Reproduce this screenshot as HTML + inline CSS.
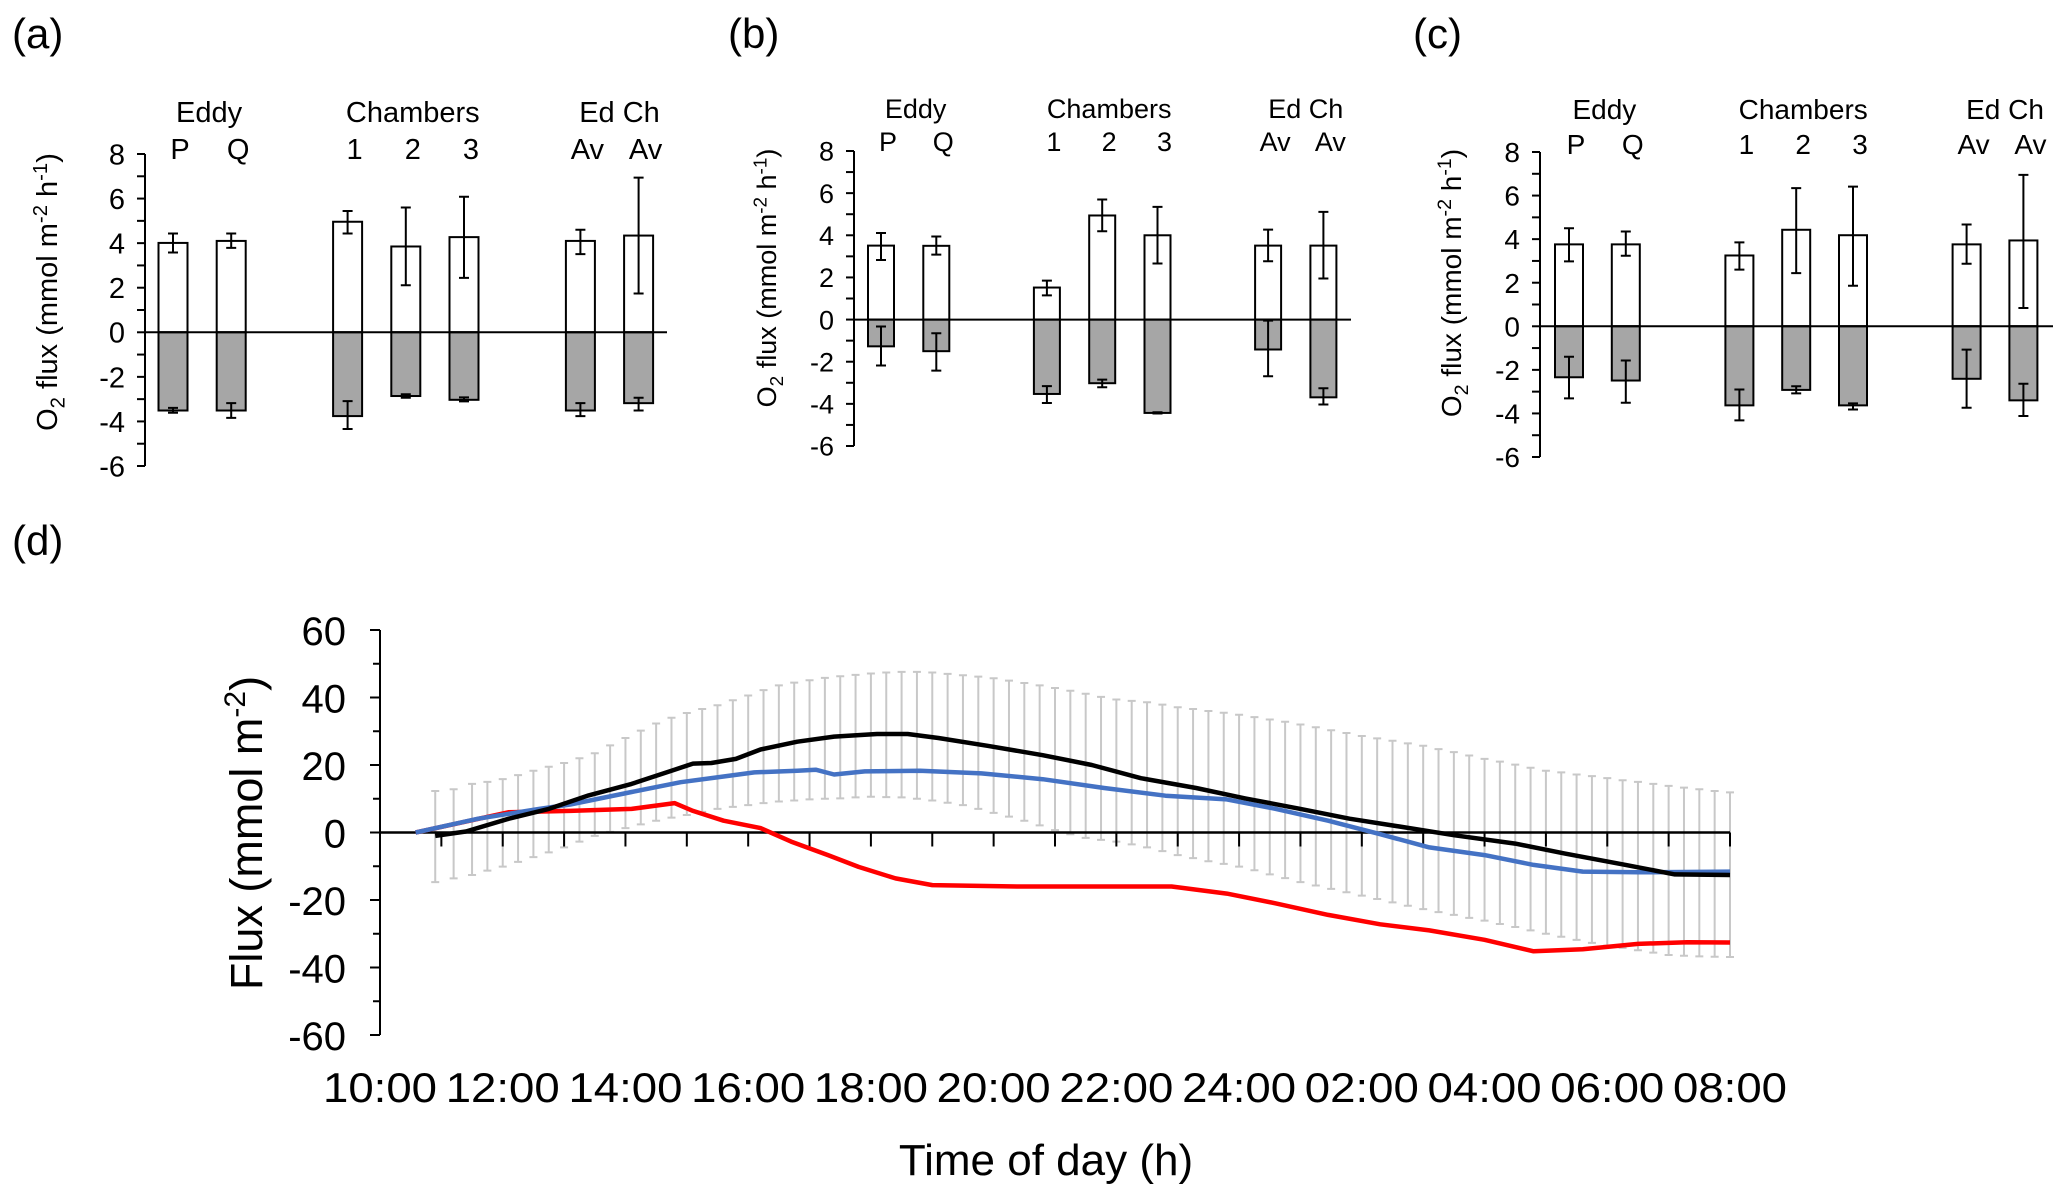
<!DOCTYPE html>
<html><head><meta charset="utf-8"><style>
html,body{margin:0;padding:0;background:#fff;}
svg{display:block;font-family:"Liberation Sans",Arial,sans-serif;}
</style></head><body>
<svg id="fig" width="2067" height="1199" viewBox="0 0 2067 1199" xmlns="http://www.w3.org/2000/svg"></svg>
<script>
// ---------- bar panel data ----------
const barCats = ["P","Q","1","2","3","Av","Av"];
const barSlots = [0,1,3,4,5,7,8];
const yTicksBar = [8,6,4,2,0,-2,-4,-6];

const aPos = [4.01,4.10,4.96,3.85,4.27,4.10,4.34];
const aPosHi = [4.43,4.43,5.44,5.60,6.08,4.60,6.94];
const aPosLo = [3.58,3.79,4.43,2.11,2.44,3.51,1.74];
const aNeg = [-3.51,-3.51,-3.76,-2.86,-3.03,-3.51,-3.18];
const aNegHi = [-3.39,-3.18,-3.09,-2.78,-2.92,-3.18,-2.94];
const aNegLo = [-3.61,-3.84,-4.34,-2.94,-3.10,-3.76,-3.51];

const bPos = [3.51,3.50,1.52,4.94,4.00,3.51,3.51];
const bPosHi = [4.11,3.94,1.85,5.70,5.35,4.27,5.11];
const bPosLo = [2.83,3.08,1.15,4.19,2.66,2.77,1.95];
const bNeg = [-1.27,-1.50,-3.53,-3.02,-4.43,-1.42,-3.69];
const bNegHi = [-0.33,-0.65,-3.16,-2.85,-4.40,-0.05,-3.26];
const bNegLo = [-2.18,-2.42,-3.96,-3.21,-4.46,-2.69,-4.03];

const cPos = [3.76,3.76,3.25,4.43,4.18,3.76,3.94];
const cPosHi = [4.50,4.35,3.85,6.34,6.41,4.67,6.95];
const cPosLo = [2.98,3.24,2.60,2.44,1.86,2.87,0.84];
const cNeg = [-2.34,-2.49,-3.63,-2.92,-3.63,-2.41,-3.40];
const cNegHi = [-1.40,-1.57,-2.90,-2.75,-3.54,-1.07,-2.64];
const cNegLo = [-3.31,-3.51,-4.32,-3.08,-3.82,-3.74,-4.12];

// ---------- line chart data (d) ----------
const xTickLabels = ["10:00","12:00","14:00","16:00","18:00","20:00","22:00","24:00","02:00","04:00","06:00","08:00"];
const yTicksD = [60,40,20,0,-20,-40,-60];
const redT = [10.58,12.09,13.1,14.1,14.68,14.8,15.1,15.6,16.2,16.7,17.3,17.8,18.4,19.0,20.4,22.9,23.8,24.6,25.45,26.3,27.1,28.0,28.8,29.6,30.5,31.3,32];
const redV = [0,6.0,6.4,7.0,8.4,8.7,6.4,3.5,1.3,-2.7,-6.7,-10.2,-13.6,-15.6,-16,-16,-18.1,-21,-24.4,-27.2,-29,-31.8,-35.2,-34.6,-33,-32.5,-32.6];
const blueT = [10.58,11.6,12.6,13.1,14.1,14.9,15.6,16.1,16.8,17.1,17.4,17.9,18.8,19.8,20.8,21.8,22.8,23.8,24.6,25.45,26.3,27.1,28.0,28.8,29.6,30.5,32];
const blueV = [0,4.1,7.0,8.3,12.0,14.9,16.6,17.8,18.3,18.6,17.2,18.1,18.3,17.5,15.8,13.2,10.9,9.8,7.0,3.5,-0.5,-4.4,-6.7,-9.6,-11.6,-11.8,-11.6];
const blackT = [10.9,11.4,12.1,12.75,13.4,14.1,14.75,15.1,15.4,15.8,16.2,16.8,17.4,18.1,18.6,19.1,19.9,20.8,21.6,22.4,23.3,24.1,25.0,25.8,26.6,27.5,28.5,29.3,30.3,31.1,32];
const blackV = [-1,0.3,4.1,7.0,11.0,14.4,18.3,20.4,20.6,21.8,24.6,26.9,28.4,29.2,29.2,28.0,25.7,22.9,20.0,16.1,13.2,10.1,7.0,4.1,1.8,-0.8,-3.3,-6.2,-9.6,-12.4,-12.6];
const errT = [10.9,11.2,11.5,11.75,12,12.25,12.5,12.75,13,13.25,13.5,13.75,14,14.25,14.5,14.75,15,15.25,15.5,15.75,16,16.25,16.5,16.75,17,17.25,17.5,17.75,18,18.25,18.5,18.75,19,19.25,19.5,19.75,20,20.25,20.5,20.75,21,21.25,21.5,21.75,22,22.25,22.5,22.75,23,23.25,23.5,23.75,24,24.25,24.5,24.75,25,25.25,25.5,25.75,26,26.25,26.5,26.75,27,27.25,27.5,27.75,28,28.25,28.5,28.75,29,29.25,29.5,29.75,30,30.25,30.5,30.75,31,31.25,31.5,31.75,32];
const errHi = [12.3,12.8,14.4,15.0,15.8,17.0,18.3,19.5,20.6,22.0,23.5,25.8,28.0,30.2,32.3,34.0,35.4,36.6,37.7,39.2,40.6,42.2,43.6,44.4,45.1,45.8,46.3,46.7,47.1,47.4,47.6,47.6,47.4,47.0,46.6,46.2,45.7,45.0,44.3,43.6,42.8,42.0,41.1,40.2,39.4,39.0,38.6,37.9,37.1,36.6,36.0,35.5,34.9,34.2,33.5,32.8,32.0,31.2,30.3,29.5,28.6,27.9,27.2,26.4,25.7,24.7,23.8,22.8,21.8,21.0,20.1,19.2,18.3,17.8,17.2,16.7,16.1,15.5,15.0,14.4,13.8,13.3,12.8,12.3,11.9];
const errLo = [-14.7,-13.6,-12.6,-11.3,-10.1,-8.7,-7.3,-5.9,-4.4,-2.7,-1.0,0.2,1.3,2.4,3.5,4.4,5.2,6.1,7.0,7.6,8.1,8.7,9.2,9.5,9.8,10.0,10.1,10.4,10.6,10.5,10.4,10.0,9.5,8.8,8.1,7.0,5.8,4.7,3.5,2.1,0.7,-0.5,-1.6,-2.2,-2.7,-3.5,-4.4,-5.5,-6.7,-7.6,-8.5,-9.3,-10.1,-11.2,-12.4,-13.5,-14.7,-15.7,-16.7,-17.7,-18.7,-19.7,-20.7,-21.7,-22.7,-23.6,-24.4,-25.3,-26.1,-27.1,-28.0,-29.0,-30.0,-30.9,-31.8,-32.7,-33.5,-34.2,-34.9,-35.6,-36.3,-36.5,-36.7,-36.8,-36.9];

const NS = "http://www.w3.org/2000/svg";
const svg = document.getElementById('fig');
function el(tag, attrs, parent){
  const e = document.createElementNS(NS, tag);
  for (const k in attrs) e.setAttribute(k, attrs[k]);
  (parent||svg).appendChild(e);
  return e;
}
function txt(s, attrs, parent){ const t = el('text', attrs, parent); t.textContent = s; return t; }

// ---------- bar panels ----------
const panels = [
  {id:'a', label:'(a)', lx:12, ax:145, y8:154, yn6:466, first:28, step:58.2, bw:29, end:667, fs:29, row1:122, row2:159, tx:57, ty:292, pos:aPos,posHi:aPosHi,posLo:aPosLo,neg:aNeg,negHi:aNegHi,negLo:aNegLo},
  {id:'b', label:'(b)', lx:728, ax:854, y8:151, yn6:446, first:27, step:55.3, bw:26, end:1351, fs:27, row1:118, row2:151, tx:776, ty:278, pos:bPos,posHi:bPosHi,posLo:bPosLo,neg:bNeg,negHi:bNegHi,negLo:bNegLo},
  {id:'c', label:'(c)', lx:1413, ax:1540, y8:152, yn6:457, first:29, step:56.8, bw:28, end:2053, fs:28, row1:119, row2:154, tx:1461, ty:283, pos:cPos,posHi:cPosHi,posLo:cPosLo,neg:cNeg,negHi:cNegHi,negLo:cNegLo}
];
panels.forEach(p=>{
  const g = el('g', {});
  
  
  const y = v => p.y8 + (8 - v) * (p.yn6 - p.y8) / 14;
  const xc = i => p.ax + p.first + barSlots[i]*p.step;
  const pl = txt(p.label, {x:p.lx, y:48, 'font-size':42, fill:'#000'}, g);
  
  
  const axl = el('line', {x1:p.ax, y1:p.y8, x2:p.ax, y2:p.yn6, stroke:'#000','stroke-width':2}, g);
  
  
  for (let v=-6; v<=8; v++){
    el('line', {x1:p.ax-8, y1:y(v), x2:p.ax, y2:y(v), stroke:'#000','stroke-width':2}, g);
  }
  yTicksBar.forEach(v=>{
    const t = txt(String(v), {x:p.ax-20, y:y(v)+p.fs*0.36, 'font-size':p.fs, 'text-anchor':'end'}, g);
    
    
  });
  const tt = el('text', {x:0, y:0, 'font-size':p.fs, 'text-anchor':'middle', transform:`translate(${p.tx},${p.ty}) rotate(-90)`}, g);
  
  
  tt.innerHTML = 'O<tspan font-size="'+(p.fs*0.7)+'" dy="'+(p.fs*0.25)+'">2</tspan><tspan dy="'+(-p.fs*0.25)+'"> flux (mmol m</tspan><tspan font-size="'+(p.fs*0.7)+'" dy="'+(-p.fs*0.35)+'">-2</tspan><tspan dy="'+(p.fs*0.35)+'"> h</tspan><tspan font-size="'+(p.fs*0.7)+'" dy="'+(-p.fs*0.35)+'">-1</tspan><tspan dy="'+(p.fs*0.35)+'">)</tspan>';
  for (let i=0;i<barCats.length;i++){
    const cx = xc(i);
    const rp = el('rect', {x:cx-p.bw/2, y:y(p.pos[i]), width:p.bw, height:y(0)-y(p.pos[i]), fill:'#fff', stroke:'#000','stroke-width':2}, g);
    
    
    const rn = el('rect', {x:cx-p.bw/2, y:y(0), width:p.bw, height:y(p.neg[i])-y(0), fill:'#a6a6a6', stroke:'#000','stroke-width':2}, g);
    
    
    [[p.posHi[i],p.posLo[i]],[p.negHi[i],p.negLo[i]]].forEach(([hi,lo])=>{
      const e = el('path', {d:`M${cx},${y(hi)}V${y(lo)}M${cx-5},${y(hi)}H${cx+5}M${cx-5},${y(lo)}H${cx+5}`, stroke:'#000','stroke-width':2, fill:'none'}, g);
      
      
    });
    const cl = txt(barCats[i], {x:cx+7, y:p.row2, 'font-size':p.fs, 'text-anchor':'middle'}, g);
    
    
  }
  const zl = el('line', {x1:p.ax, y1:y(0), x2:p.end, y2:y(0), stroke:'#000','stroke-width':2}, g);
  
  
  const groups = [['Eddy',(xc(0)+xc(1))/2+7],['Chambers',xc(3)+7],['Ed Ch',(xc(5)+xc(6))/2+10]];
  groups.forEach(([s,x])=>{
    const gl = txt(s, {x:x, y:p.row1, 'font-size':p.fs, 'text-anchor':'middle'}, g);
    
    
  });
});

// ---------- panel d ----------
const gd = el('g', {});


const dAx = 380, dY60 = 630, dYn60 = 1035, dEnd = 1730;
const xD = t => dAx + (t-10) * (dEnd-dAx)/22;
const yD = v => dY60 + (60 - v) * (dYn60 - dY60)/120;
const dl = txt('(d)', {x:12, y:555, 'font-size':42}, gd);


const eg = el('g', {stroke:'#c8c8c8','stroke-width':2, fill:'none'}, gd);


for (let i=0;i<errT.length;i++){
  const x = xD(errT[i]);
  const e = el('path', {d:`M${x},${yD(errHi[i])}V${yD(errLo[i])}M${x-4},${yD(errHi[i])}H${x+4}M${x-4},${yD(errLo[i])}H${x+4}`}, eg);
  
  
}
const yax = el('line', {x1:dAx, y1:dY60, x2:dAx, y2:dYn60, stroke:'#000','stroke-width':2}, gd);


for (let v=-60; v<=60; v+=10){
  el('line', {x1:dAx-(v%20===0?10:7), y1:yD(v), x2:dAx, y2:yD(v), stroke:'#000','stroke-width':2}, gd);
}
yTicksD.forEach(v=>{
  const t = txt(String(v), {x:dAx-34, y:yD(v)+15, 'font-size':40, 'text-anchor':'end'}, gd);
  
  
});
const xax = el('line', {x1:dAx, y1:yD(0), x2:dEnd, y2:yD(0), stroke:'#000','stroke-width':2.5}, gd);


for (let h=0; h<=22; h++){
  el('line', {x1:xD(10+h), y1:yD(0), x2:xD(10+h), y2:yD(0)+14, stroke:'#000','stroke-width':2}, gd);
}
xTickLabels.forEach((s,i)=>{
  const t = txt(s, {x:xD(10+2*i), y:1102, 'font-size':42, 'text-anchor':'middle', textLength:114, lengthAdjust:'spacingAndGlyphs'}, gd);
  
  
});
const xt = txt('Time of day (h)', {x:1046, y:1175, 'font-size':44, 'text-anchor':'middle'}, gd);


const yt = el('text', {x:0, y:0, 'font-size':45, 'text-anchor':'middle', transform:'translate(262,833) rotate(-90)'}, gd);


yt.innerHTML = 'Flux (mmol m<tspan font-size="30" dy="-17">-2</tspan><tspan dy="17">)</tspan>';
function line(T, V, color, name){
  const d = T.map((t,i)=>(i?'L':'M')+xD(t).toFixed(1)+','+yD(V[i]).toFixed(1)).join('');
  const p = el('path', {d:d, stroke:color, 'stroke-width':4.5, fill:'none','stroke-linejoin':'round'}, gd);
  
  
}
line(redT, redV, '#ff0000', 'series-red');
line(blueT, blueV, '#4472c4', 'series-blue');
line(blackT, blackV, '#000000', 'series-black');
</script>
</body></html>
